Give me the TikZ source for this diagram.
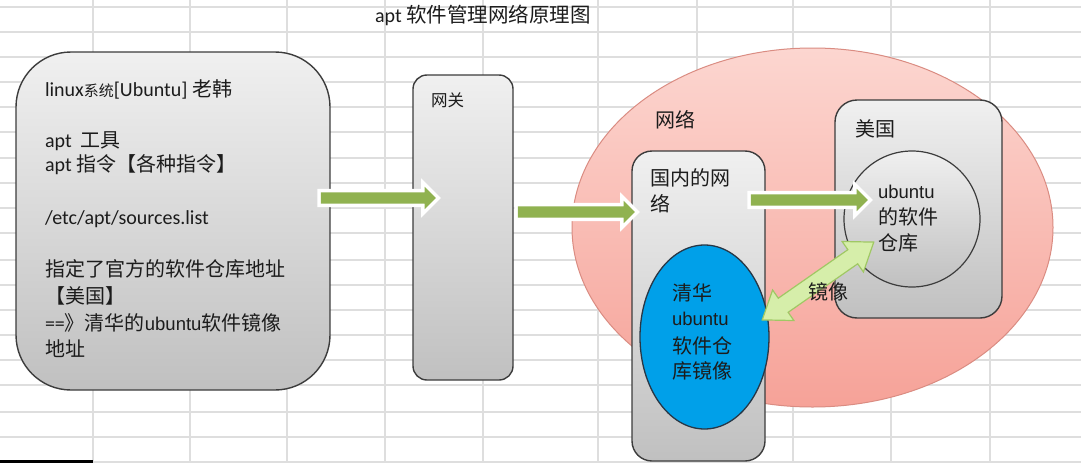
\documentclass[tikz,border=0pt]{standalone}
\usepackage{fontspec}
\setmainfont{Carlito}
\newfontfamily\cjk{Noto Sans CJK SC}
\newfontfamily\latfam{Carlito}
\newfontfamily\arialfam{Liberation Sans}
\newcommand\cjkf{\cjk\fontsize{20}{24}\selectfont}
\newcommand\cjks[1]{{\cjk\fontsize{15}{18}\selectfont #1}}
\newcommand\latf[1]{{\latfam\fontsize{20}{24}\selectfont #1}}
\newcommand\arif[1]{{\arialfam\fontsize{18.5}{24}\selectfont #1}}
\usetikzlibrary{shapes.geometric,shapes.arrows}
\definecolor{gridc}{RGB}{222,222,222}
\definecolor{txtc}{RGB}{28,28,28}
\definecolor{boxd}{RGB}{60,60,60}
\definecolor{grayT}{RGB}{240,240,240}
\definecolor{grayB}{RGB}{192,192,192}
\definecolor{pinkT}{RGB}{252,214,208}
\definecolor{pinkB}{RGB}{246,162,152}
\definecolor{pinkD}{RGB}{218,140,130}
\definecolor{blueF}{RGB}{0,160,233}
\definecolor{blueD}{RGB}{40,55,70}
\definecolor{agreen}{RGB}{144,178,80}
\definecolor{lgreen}{RGB}{214,238,170}
\definecolor{lgreenD}{RGB}{160,200,100}
\begin{document}
\begin{tikzpicture}[x=1pt,y=-1pt,
  txt/.style={anchor=base west, inner sep=0pt, outer sep=0pt, font=\cjkf, text=txtc},
  graybox/.style={rectangle, draw=boxd, line width=1.4pt, top color=grayT, bottom color=grayB, inner sep=0pt},
  blk/.style={single arrow, single arrow head extend=5.5pt, single arrow tip angle=90,
    inner xsep=0pt, inner ysep=5.5pt, fill=agreen, preaction={draw=white, line width=7pt},
    minimum height=#1},
  mirrorarrow/.style={double arrow, double arrow head extend=10pt, double arrow tip angle=72,
    inner xsep=0pt, inner ysep=8pt, fill=lgreen, draw=lgreenD, line width=1.2pt}
]
% background and bounding box
\fill[white] (0,0) rectangle (1081,463);
\useasboundingbox (0,0) rectangle (1081,463);
% spreadsheet grid
\foreach \gx in {93,190,287,385,483,598,697,793,891,990}
  \draw[gridc, line width=1.2pt] (\gx,0) -- (\gx,463);
\foreach \gy in {7,32,57,82,107,132,158,183,208,233,260,285,310,335,360,385,412,437,462}
  \draw[gridc, line width=1.2pt] (0,\gy) -- (1081,\gy);
\fill[black] (0,459.5) rectangle (93,463);

% title
\node[txt, font=\cjk\fontsize{20.5}{24}\selectfont] (title) at (375,22.5) {\latf{apt} 软件管理网络原理图};

% left box
\node[graybox, rounded corners=55pt, minimum width=314pt, minimum height=338pt] (linuxbox) at (173,221) {};
\node[txt] (l1) at (45,96.5) {\latf{linux}\cjks{系统}\latf{[Ubuntu] }老韩};
\node[txt] (l2) at (45,147.4) {\latf{apt}\hspace{9pt}工具};
\node[txt] (l3) at (45,171) {\latf{apt} 指令【各种指令】};
\node[txt] (l4) at (45,224) {\latf{/etc/apt/sources.list}};
\node[txt] (l5) at (45,276.4) {指定了官方的软件仓库地址};
\node[txt] (l6) at (45,303.4) {【美国】};
\node[txt] (l7) at (45,330) {\latf{==}》清华的\arif{ubuntu}软件镜像};
\node[txt] (l8) at (45,356.4) {地址};

% gateway
\node[graybox, rounded corners=14pt, minimum width=100pt, minimum height=305pt] (gw) at (463,227.5) {};
\node[txt, font=\cjk\fontsize{16.5}{18}\selectfont] (gwt) at (431,106.5) {网关};

% network ellipse
\node[ellipse, draw=pinkD, line width=1pt, top color=pinkT, bottom color=pinkB, inner sep=0pt,
  minimum width=481pt, minimum height=359pt] (net) at (812.5,227.5) {};
\node[txt] (nett) at (655,127.4) {网络};

% domestic network box
\node[graybox, rounded corners=20pt, minimum width=133pt, minimum height=310pt] (dom) at (698.5,306) {};
\node[txt] (dom1) at (650,185.4) {国内的网};
\node[txt] (dom2) at (650,211) {络};

% tsinghua mirror ellipse
\node[ellipse, draw=blueD, line width=1.3pt, fill=blueF, inner sep=0pt,
  minimum width=129pt, minimum height=184pt] (tsinghua) at (704.5,337) {};
\node[txt] (ts1) at (672,300) {清华};
\node[txt] (ts2) at (672,325) {\arif{ubuntu}};
\node[txt] (ts3) at (672,353) {软件仓};
\node[txt] (ts4) at (672,378.5) {库镜像};

% USA box
\node[graybox, rounded corners=22pt, minimum width=167pt, minimum height=218pt] (usa) at (918.5,209) {};
\node[txt] (usat) at (855,136) {美国};
\node[circle, draw=boxd, line width=1.2pt, top color=grayT, bottom color=grayB, inner sep=0pt,
  minimum size=136pt] (repo) at (912,219) {};
\node[txt] (r1) at (878,198) {\arif{ubuntu}};
\node[txt] (r2) at (878,224) {的软件};
\node[txt] (r3) at (878,250) {仓库};

% block arrows
\node[blk=115pt] (a1) at (375.5,198) {};
\node[blk=117pt] (a2) at (573.5,212) {};
\node[blk=117pt] (a3) at (806.5,200) {};
\node[mirrorarrow, minimum height=136pt, rotate=34.9] (mirror) at (818,281) {};
\node[txt] (mirrort) at (808,299.4) {镜像};
\end{tikzpicture}
\end{document}
